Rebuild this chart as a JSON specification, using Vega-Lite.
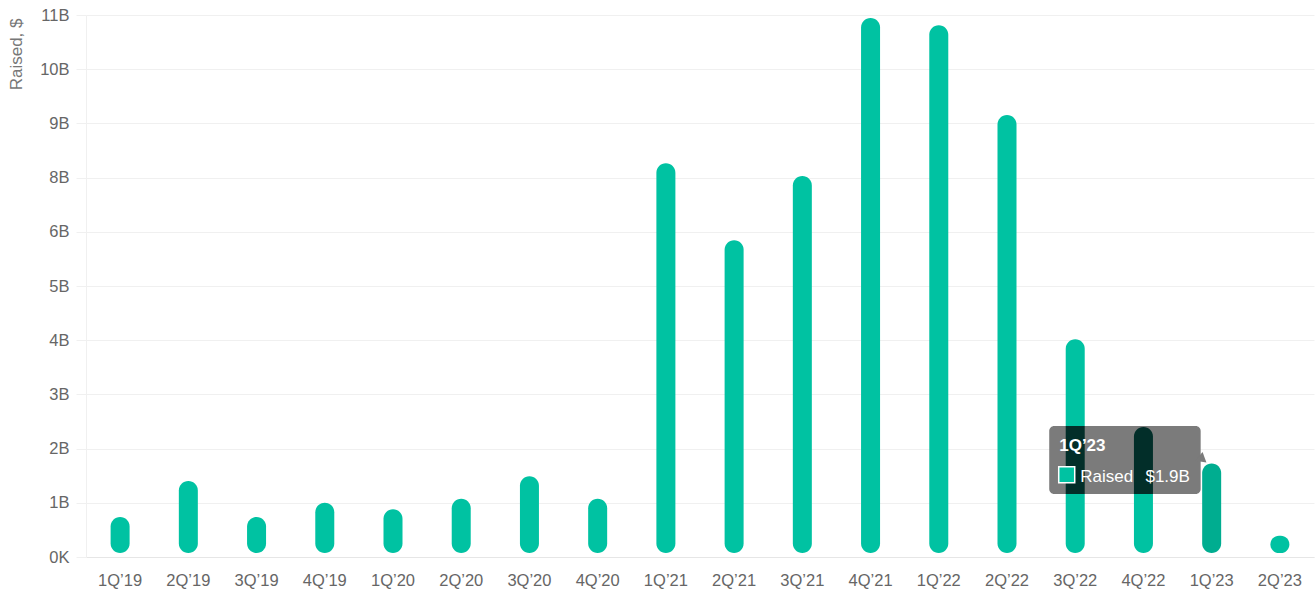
{
  "$schema": "https://vega.github.io/schema/vega-lite/v6.json",
  "width": 1228,
  "height": 542,
  "autosize": {"type": "none"},
  "padding": {"left": 86, "top": 15, "right": 1, "bottom": 43},
  "background": "white",
  "config": {
    "view": {"stroke": null},
    "font": "Liberation Sans",
    "axis": {"labelFont": "Liberation Sans", "titleFont": "Liberation Sans"}
  },
  "datasets": {
    "raised": [
      {"quarter": "1Q’19", "value": 810000000},
      {"quarter": "2Q’19", "value": 1540000000},
      {"quarter": "3Q’19", "value": 810000000},
      {"quarter": "4Q’19", "value": 1100000000},
      {"quarter": "1Q’20", "value": 970000000},
      {"quarter": "2Q’20", "value": 1180000000},
      {"quarter": "3Q’20", "value": 1640000000},
      {"quarter": "4Q’20", "value": 1180000000},
      {"quarter": "1Q’21", "value": 7990000000},
      {"quarter": "2Q’21", "value": 6430000000},
      {"quarter": "3Q’21", "value": 7730000000},
      {"quarter": "4Q’21", "value": 10940000000},
      {"quarter": "1Q’22", "value": 10790000000},
      {"quarter": "2Q’22", "value": 8970000000},
      {"quarter": "3Q’22", "value": 4420000000},
      {"quarter": "4Q’22", "value": 2640000000},
      {"quarter": "1Q’23", "value": 1900000000},
      {"quarter": "2Q’23", "value": 430000000}
    ],
    "tip": [
      {"title": "1Q’23", "series": "Raised", "amount": "$1.9B"}
    ]
  },
  "layer": [
    {
      "data": {"name": "raised"},
      "mark": {"type": "bar", "size": 19, "cornerRadius": 9.5, "y2Offset": -4},
      "encoding": {
        "x": {
          "field": "quarter",
          "type": "nominal",
          "scale": {
            "domain": ["1Q’19","2Q’19","3Q’19","4Q’19","1Q’20","2Q’20","3Q’20","4Q’20","1Q’21","2Q’21","3Q’21","4Q’21","1Q’22","2Q’22","3Q’22","4Q’22","1Q’23","2Q’23"],
            "paddingInner": 0,
            "paddingOuter": 0
          },
          "axis": {
            "title": null,
            "labelAngle": 0,
            "labelFontSize": 16.5,
            "labelColor": "#666666",
            "labelPadding": 15,
            "ticks": false,
            "domainColor": "#e6e6e6",
            "domainWidth": 1,
            "grid": false
          }
        },
        "y": {
          "field": "value",
          "type": "quantitative",
          "scale": {"domain": [0, 11000000000], "nice": false, "zero": true},
          "axis": {
            "title": "Raised, $",
            "values": [0, 1100000000, 2200000000, 3300000000, 4400000000, 5500000000, 6600000000, 7700000000, 8800000000, 9900000000, 11000000000],
            "labelExpr": "['0K','1B','2B','3B','4B','5B','6B','8B','9B','10B','11B'][round(datum.value / 1100000000)]",
            "labelFontSize": 16.5,
            "labelColor": "#666666",
            "labelPadding": 7,
            "tickSize": 10,
            "tickColor": "#f0f0f0",
            "gridColor": "#f0f0f0",
            "domainColor": "#f0f0f0",
            "titleFontSize": 17,
            "titleFontWeight": "normal",
            "titleColor": "#777777",
            "titleAngle": -90,
            "titleAlign": "right",
            "titleBaseline": "middle",
            "titleX": -70,
            "titleY": 3
          }
        },
        "y2": {"datum": 0},
        "color": {
          "condition": {"test": "datum.quarter === '1Q’23'", "value": "#00ad90"},
          "value": "#00c2a2"
        }
      }
    },
    {
      "data": {"name": "tip"},
      "mark": {"type": "rect", "color": "#7b7b7b", "cornerRadius": 5, "xOffset": -26, "x2Offset": -11},
      "encoding": {
        "x": {"datum": "3Q’22", "type": "nominal"},
        "x2": {"datum": "1Q’23"},
        "y": {"datum": 2660000000, "type": "quantitative"},
        "y2": {"datum": 1280000000}
      }
    },
    {
      "data": {"name": "tip"},
      "mark": {"type": "point", "shape": "M-0.1397,-0.5H0.1397V0.5H-0.1397Z", "filled": true, "color": "#022e29", "strokeWidth": 0, "opacity": 1, "size": 18496},
      "encoding": {
        "x": {"datum": "3Q’22", "type": "nominal"},
        "y": {"datum": 1970000000, "type": "quantitative"}
      }
    },
    {
      "data": {"name": "raised"},
      "transform": [{"filter": "datum.quarter === '4Q’22'"}],
      "mark": {"type": "bar", "size": 19, "color": "#022e29", "cornerRadiusTopLeft": 9.5, "cornerRadiusTopRight": 9.5},
      "encoding": {
        "x": {"field": "quarter", "type": "nominal"},
        "y": {"field": "value", "type": "quantitative"},
        "y2": {"datum": 1280000000}
      }
    },
    {
      "data": {"name": "tip"},
      "mark": {"type": "point", "shape": "triangle-right", "filled": true, "fill": "#7b7b7b", "strokeWidth": 0, "opacity": 1, "size": 130, "angle": 40, "xOffset": -9},
      "encoding": {
        "x": {"datum": "1Q’23", "type": "nominal"},
        "y": {"datum": 1980000000, "type": "quantitative"}
      }
    },
    {
      "data": {"name": "tip"},
      "mark": {"type": "text", "align": "left", "baseline": "alphabetic", "fontSize": 17, "fontWeight": "bold", "color": "white", "xOffset": -16},
      "encoding": {
        "x": {"datum": "3Q’22", "type": "nominal"},
        "y": {"datum": 2150000000, "type": "quantitative"},
        "text": {"field": "title"}
      }
    },
    {
      "data": {"name": "tip"},
      "mark": {"type": "point", "shape": "square", "filled": true, "color": "#00c2a2", "stroke": "white", "strokeWidth": 1.5, "opacity": 1, "size": 256, "xOffset": -8.5},
      "encoding": {
        "x": {"datum": "3Q’22", "type": "nominal"},
        "y": {"datum": 1670000000, "type": "quantitative"}
      }
    },
    {
      "data": {"name": "tip"},
      "mark": {"type": "text", "align": "left", "baseline": "alphabetic", "fontSize": 17, "color": "white", "xOffset": 5},
      "encoding": {
        "x": {"datum": "3Q’22", "type": "nominal"},
        "y": {"datum": 1520000000, "type": "quantitative"},
        "text": {"field": "series"}
      }
    },
    {
      "data": {"name": "tip"},
      "mark": {"type": "text", "align": "left", "baseline": "alphabetic", "fontSize": 17, "color": "white", "xOffset": 2},
      "encoding": {
        "x": {"datum": "4Q’22", "type": "nominal"},
        "y": {"datum": 1520000000, "type": "quantitative"},
        "text": {"field": "amount"}
      }
    }
  ]
}
